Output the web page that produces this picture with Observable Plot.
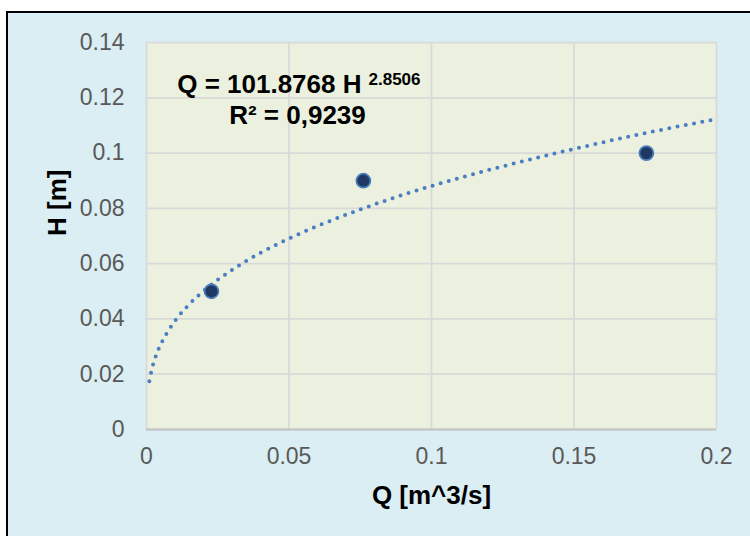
<!DOCTYPE html>
<html><head><meta charset="utf-8">
<script src="https://cdn.jsdelivr.net/npm/d3@7"></script>
<script src="https://cdn.jsdelivr.net/npm/@observablehq/plot@0.6"></script>
<style>
html,body{margin:0;padding:0;background:#fff;width:750px;height:536px;overflow:hidden}
#box{position:absolute;left:6px;top:11px;width:760px;height:540px;border-left:2px solid #000;border-top:2px solid #000;background:#DAEEF3;}
#chart{position:absolute;left:0;top:0}
</style></head><body><div id="box"><div id="chart"></div></div>
<script>
const flowQ = [0.0228, 0.0761, 0.1754];
const headH = [0.050, 0.090, 0.100];
const trendQ = [0.001, 0.002, 0.003, 0.005, 0.0075, 0.01, 0.015, 0.02, 0.03, 0.04, 0.05, 0.06, 0.075, 0.09, 0.1, 0.125, 0.15, 0.175, 0.2];
const trendH = [0.0175, 0.0223, 0.0257, 0.0308, 0.0355, 0.0393, 0.0453, 0.0501, 0.0577, 0.0639, 0.0691, 0.0736, 0.0796, 0.0849, 0.0881, 0.0952, 0.1015, 0.1072, 0.1123];
const xTicks = [0, 0.05, 0.1, 0.15, 0.2];
const yTicks = [0, 0.02, 0.04, 0.06, 0.08, 0.1, 0.12, 0.14];
const xTitle = "Q [m^3/s]";
const yTitle = "H [m]";
const eqMain = "Q = 101.8768 H";
const eqExp = "2.8506";
const eqR2 = "R² = 0,9239";

const points = flowQ.map((q, i) => ({q, h: headH[i]}));
const trend = trendQ.map((q, i) => ({q, h: trendH[i]}));

const chart = Plot.plot({
  width: 742,
  height: 523,
  marginLeft: 138,
  marginRight: 34,
  marginTop: 29,
  marginBottom: 107,
  style: {background: "transparent", fontFamily: "'Liberation Sans', Arial, sans-serif", fontSize: "23px", color: "#595959"},
  x: {domain: [0, 0.2], ticks: xTicks, tickFormat: d => String(d), tickSize: 0, tickPadding: 18, label: null},
  y: {domain: [0, 0.14], ticks: yTicks, tickFormat: d => String(d), tickSize: 0, tickPadding: 22, label: null},
  marks: [
    Plot.frame({fill: "#EBF1DE", stroke: "none"}),
    Plot.ruleX(xTicks, {stroke: "#d9d9d9", strokeWidth: 1.75}),
    Plot.ruleY(yTicks.filter(d => d > 0), {stroke: "#d9d9d9", strokeWidth: 1.75}),
    Plot.ruleY([0], {stroke: "#bfbfbf", strokeWidth: 2}),
    Plot.line(trend, {x: "q", y: "h", stroke: "#4a7dc4", strokeWidth: 4, strokeDasharray: "0 8.4", strokeLinecap: "round", curve: "monotone-x"}),
    Plot.dot(points, {x: "q", y: "h", r: 7, fill: "#203864", stroke: "#4a7ebb", strokeWidth: 1.75}),
    Plot.text([eqMain], {frameAnchor: "top-left", dx: 215, dy: 50, textAnchor: "end", lineAnchor: "bottom", fontSize: 26, fontWeight: "bold", fill: "#000"}),
    Plot.text([eqExp], {frameAnchor: "top-left", dx: 222, dy: 42, textAnchor: "start", lineAnchor: "bottom", fontSize: 17, fontWeight: "bold", fill: "#000"}),
    Plot.text([eqR2], {frameAnchor: "top-left", dx: 151, dy: 81, textAnchor: "middle", lineAnchor: "bottom", fontSize: 26, fontWeight: "bold", fill: "#000"}),
    Plot.text([xTitle], {frameAnchor: "bottom", dy: 74, lineAnchor: "bottom", fontSize: 26, fontWeight: "bold", fill: "#000"}),
    Plot.text([yTitle], {frameAnchor: "left", dx: -81, rotate: -90, lineAnchor: "bottom", fontSize: 26, fontWeight: "bold", fill: "#000"})
  ]
});
document.getElementById("chart").appendChild(chart);
</script>
</body></html>
